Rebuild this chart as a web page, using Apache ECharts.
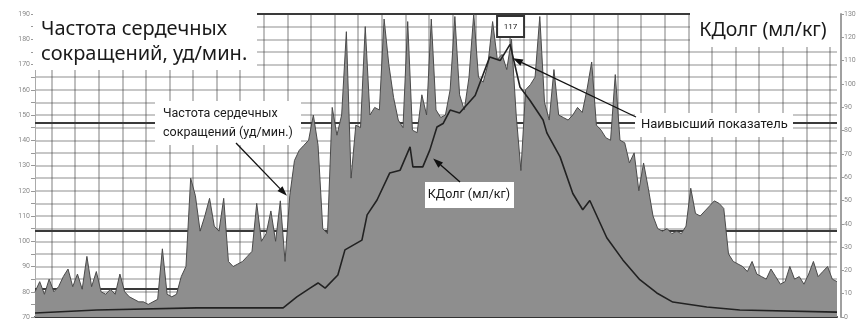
<!DOCTYPE html>
<html><head><meta charset="utf-8">
<script src="https://cdn.jsdelivr.net/npm/echarts@6/dist/echarts.min.js"></script>
<style>html,body{margin:0;padding:0;background:#fff}#c{width:859px;height:322px}</style>
</head><body><div id="c"></div>
<script>
// Heart rate (bpm), one value per time step 0..170
const hrValues = [
80,84,79,85,80,82,86,89,82,87,
81,94,82,88,80,79,81,79,87,80,
78,77,76,76,75,76,77,97,79,78,
79,86,90,125,118,104,110,117,106,104,
117,92,90,91,92,94,96,115,100,103,
112,100,116,92,118,132,136,138,140,150,
138,105,103,153,142,150,183,125,146,145,
185,150,153,152,188,170,157,148,145,187,
144,143,158,150,188,152,149,150,160,189,
158,152,165,190,165,163,170,187,172,174,
168,180,150,128,160,162,165,189,155,148,
168,150,149,148,150,153,151,160,171,146,
144,141,140,166,140,139,131,135,120,131,
121,110,105,104,105,103,104,103,106,121,
111,110,112,114,116,115,113,95,92,91,
90,88,92,87,86,85,89,86,83,84,
90,85,86,83,87,92,86,88,90,85,84
];
// КДолг (ml/kg) points: time step and value
const kdTime = [0,13.1,34.3,52.6,55.5,58.3,60,61.5,64.2,65.7,69.3,70.4,72.5,75.2,77.4,79.5,80.1,82.2,83.7,85.2,86.5,88,90,93.3,96.4,98.6,100.7,102.8,104.9,107.7,108.5,111.3,114,116.1,117.6,121.2,124.6,128.2,131.8,135.2,142.4,149.4,170];
const kdValues = [1.7,3,3.9,3.9,8.6,12.4,14.6,12.4,18,28.8,33,43.8,50.2,61.8,63,73,64.4,64.4,71.7,81.5,83,88.8,87.5,95,111.6,110,117,98.7,93,84.5,79,68.7,53,46,50,34,24.5,16,10.3,6.4,4.3,3,2.1];
// Zone threshold lines (bpm)
const zoneLines = [190, 147, 104, 81];
// axes
const hrMin = 70, hrMax = 190, hrStep = 5;
const kdMin = 0, kdMax = 130, kdStep = 10;
const timeMax = 170;
const vGridFirst = 3.5, vGridStep = 5;

const vGrid = [];
for (let t = vGridFirst; t < timeMax; t += vGridStep) vGrid.push(t);

const chart = echarts.init(document.getElementById('c'));
const smallFont = 'Roboto, "Liberation Sans Narrow", sans-serif';
chart.setOption({
  animation: false,
  backgroundColor: '#fff',
  grid: {left: 35, right: 22, top: 14, bottom: 5},
  xAxis: {
    type: 'value', min: 0, max: timeMax, interval: 5,
    axisLine: {show: true, lineStyle: {color: '#333', width: 2}},
    axisTick: {show: false}, axisLabel: {show: false}, splitLine: {show: false}
  },
  yAxis: [{
    type: 'value', min: hrMin, max: hrMax, interval: hrStep,
    axisLine: {show: true, lineStyle: {color: '#aaa', width: 1}},
    axisTick: {show: true, length: 4, lineStyle: {color: '#999'}},
    axisLabel: {fontSize: 7, color: '#8a8a8a', margin: 5, fontFamily: smallFont,
      formatter: v => (v % 10 === 0 ? String(v) : '')},
    splitLine: {show: true, lineStyle: {color: '#b4b4b4', width: 1.6}}
  }, {
    type: 'value', min: kdMin, max: kdMax, interval: kdStep, position: 'right', offset: 4,
    axisLine: {show: true, lineStyle: {color: '#a0a0a0', width: 2}},
    axisTick: {show: true, length: 3, lineStyle: {color: '#999'}},
    axisLabel: {fontSize: 7, color: '#8a8a8a', margin: 3, fontFamily: smallFont},
    splitLine: {show: false}
  }],
  series: [{
    name: 'ЧСС', type: 'line', yAxisIndex: 0,
    data: hrValues.map((v, i) => [i, v]),
    symbol: 'none', z: 2,
    lineStyle: {color: '#4a4a4a', width: 1},
    areaStyle: {color: '#8e8e8e', opacity: 1},
    markLine: {
      silent: true, symbol: 'none', z: 2, label: {show: false}, animation: false,
      data: zoneLines.map(v => ({yAxis: v, lineStyle: {color: '#3a3a3a', width: 2, type: 'solid'}}))
        .concat(vGrid.map(t => ({xAxis: t, lineStyle: {color: 'rgba(60,60,60,0.33)', width: 2, type: 'solid'}})))
    }
  }, {
    name: 'КДолг', type: 'line', yAxisIndex: 1, z: 4,
    data: kdTime.map((t, i) => [t, kdValues[i]]),
    symbol: 'none',
    lineStyle: {color: '#222', width: 1.6}
  }]
});

function px(t, v, yi) { return chart.convertToPixel({xAxisIndex: 0, yAxisIndex: yi}, [t, v]); }
function arrow(x1, y1, x2, y2) {
  const a = Math.atan2(y2 - y1, x2 - x1), L = 10, W = 3.5;
  const bx = x2 - L * Math.cos(a), by = y2 - L * Math.sin(a);
  const nx = -Math.sin(a), ny = Math.cos(a);
  return [
    {type: 'line', z: 20, shape: {x1, y1, x2: bx, y2: by}, style: {stroke: '#111', lineWidth: 1.3}},
    {type: 'polygon', z: 20, shape: {points: [[x2, y2], [bx + nx * W, by + ny * W], [bx - nx * W, by - ny * W]]}, style: {fill: '#111'}}
  ];
}
function box(x, y, w, h, text, opts) {
  return [
    {type: 'rect', z: 15, shape: {x, y, width: w, height: h}, style: {fill: '#fff', stroke: opts.stroke || null, lineWidth: opts.lw || 0}},
    {type: 'text', z: 16, x: opts.tx, y: opts.ty, style: {text, fill: '#1a1a1a', fontSize: opts.fs, fontFamily: opts.ff,
      lineHeight: opts.lh || opts.fs * 1.2, align: opts.align || 'left', verticalAlign: opts.va || 'top'}}
  ];
}
const peakIdx = kdValues.indexOf(Math.max(...kdValues));
const peak = px(kdTime[peakIdx], kdValues[peakIdx], 1);
const peakTip = px(kdTime[peakIdx] + 0.6, kdValues[peakIdx] - 6, 1);
const kdTip = px(84.4, 68, 1);
const hrTip = px(53.4, 118, 0);
const bigFont = '"Noto Sans", "Open Sans", sans-serif';
let g = [];
g = g.concat(box(33, 13, 224, 57, 'Частота сердечных\nсокращений, уд/мин.', {tx: 41, ty: 17, fs: 20, lh: 25, ff: bigFont}));
g = g.concat(box(690, 13, 147, 34, 'КДолг (мл/кг)', {tx: 763, ty: 30, fs: 19.5, ff: bigFont, align: 'center', va: 'middle'}));
g = g.concat(box(155, 101, 146, 44, 'Частота сердечных\nсокращений (уд/мин.)', {tx: 163, ty: 104, fs: 12.5, lh: 19, ff: smallFont}));
g = g.concat(box(425, 182, 89, 26, 'КДолг (мл/кг)', {tx: 469, ty: 195, fs: 12.5, ff: smallFont, align: 'center', va: 'middle'}));
g = g.concat(box(635, 113, 158, 24, 'Наивысший показатель', {tx: 641, ty: 125, fs: 13, ff: smallFont, va: 'middle'}));
g = g.concat(arrow(236, 143, hrTip[0], hrTip[1]));
g = g.concat(arrow(460, 182, kdTip[0], kdTip[1]));
g = g.concat(arrow(636, 117, peakTip[0], peakTip[1]));
// peak value box
g.push({type: 'line', z: 15, shape: {x1: peak[0], y1: 37, x2: peak[0], y2: peak[1]}, style: {stroke: '#444', lineWidth: 1}});
g = g.concat(box(peak[0] - 13, 16, 27, 21, String(kdValues[peakIdx]), {tx: peak[0] + 0.5, ty: 26.5, fs: 8, ff: smallFont, align: 'center', va: 'middle', stroke: '#333', lw: 2}));
chart.setOption({graphic: g});
</script>
</body></html>
